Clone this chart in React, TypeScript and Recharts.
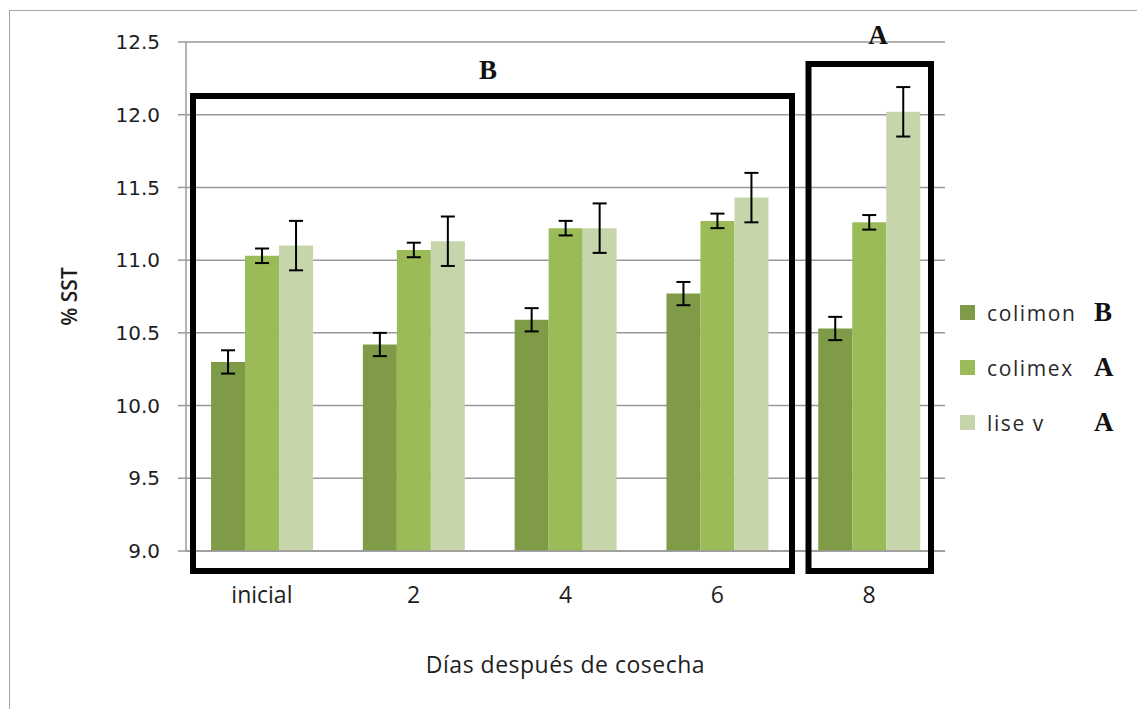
import { BarChart, Bar, XAxis, YAxis, CartesianGrid, ErrorBar, Legend, Label } from 'recharts';

// días después de cosecha
const DAYS = ['inicial', '2', '4', '6', '8'];

// % SST por variedad
const COLIMON = [10.3, 10.42, 10.59, 10.77, 10.53];
const COLIMEX = [11.03, 11.07, 11.22, 11.27, 11.26];
const LISE_V = [11.1, 11.13, 11.22, 11.43, 12.02];

// barras de error (±)
const COLIMON_ERR = [0.08, 0.08, 0.08, 0.08, 0.08];
const COLIMEX_ERR = [0.05, 0.05, 0.05, 0.05, 0.05];
const LISE_V_ERR = [0.17, 0.17, 0.17, 0.17, 0.17];

const Y_TICKS = [9.0, 9.5, 10.0, 10.5, 11.0, 11.5, 12.0, 12.5];

const SERIES_NAMES = ['colimon', 'colimex', 'lise v'];
const SERIES_LETTERS = ['B', 'A', 'A'];
const SERIES_COLORS = ['#7F9B48', '#9BBB59', '#C6D6AA'];

const data = DAYS.map((day, i) => ({
  day,
  colimon: COLIMON[i],
  colimex: COLIMEX[i],
  liseV: LISE_V[i],
  colimonErr: COLIMON_ERR[i],
  colimexErr: COLIMEX_ERR[i],
  liseVErr: LISE_V_ERR[i],
}));

const SANS = '"Open Sans", "Noto Sans", sans-serif';
const SERIF = '"Liberation Serif", "DejaVu Serif", serif';
const TEXT = '#1e1e1e';

function LegendBox() {
  return (
    <div style={{ fontFamily: SANS }}>
      {SERIES_NAMES.map((name, i) => (
        <div key={name} style={{ display: 'flex', alignItems: 'center', height: 55, position: 'relative' }}>
          <span style={{ width: 15, height: 15, background: SERIES_COLORS[i], display: 'inline-block', marginLeft: 2 }} />
          <span style={{ marginLeft: 12, fontSize: 21, color: '#2a2a2a', letterSpacing: 1.6 }}>{name}</span>
          <span
            style={{
              position: 'absolute',
              left: 136,
              fontFamily: SERIF,
              fontWeight: 'bold',
              fontSize: 27,
              color: '#111',
            }}
          >
            {SERIES_LETTERS[i]}
          </span>
        </div>
      ))}
    </div>
  );
}

export default function App() {
  return (
    <div style={{ position: 'absolute', left: 0, top: 0, width: 1137, height: 709, overflow: 'hidden', background: '#fff' }}>
      {/* marco exterior */}
      <div
        style={{
          position: 'absolute',
          left: 9,
          top: 10,
          width: 1200,
          height: 800,
          borderLeft: '1.5px solid #a6a6a6',
          borderTop: '1.5px solid #a6a6a6',
        }}
      />
      <BarChart
        width={1137}
        height={709}
        data={data}
        margin={{ top: 42, right: 192, bottom: 28, left: 66 }}
        barCategoryGap="16.5%"
        barGap={0}
      >
        <CartesianGrid vertical={false} stroke="#999" strokeWidth={1.5} />
        <XAxis
          dataKey="day"
          height={130}
          axisLine={{ stroke: '#999', strokeWidth: 1.5 }}
          tickLine={false}
          tickSize={0}
          tickMargin={36}
          tick={{ fontSize: 23, fill: TEXT, fontFamily: SANS }}
        >
          <Label
            value="Días después de cosecha"
            position="insideBottom"
            offset={8}
            style={{ fontSize: 23, fill: TEXT, fontFamily: SANS, letterSpacing: 0.5 }}
          />
        </XAxis>
        <YAxis
          width={120}
          domain={[9, 12.5]}
          ticks={Y_TICKS}
          interval={0}
          tickFormatter={(v: number) => v.toFixed(1)}
          axisLine={{ stroke: '#999', strokeWidth: 1.5 }}
          tickLine={{ stroke: '#999', strokeWidth: 1.5 }}
          tickSize={8}
          tickMargin={18}
          tick={{ fontSize: 20, fill: TEXT, fontFamily: '"DejaVu Sans", sans-serif' }}
        >
          <Label
            value="% SST"
            angle={-90}
            position="insideLeft"
            offset={4}
            style={{ fontSize: 21, fill: TEXT, fontFamily: SANS, textAnchor: 'middle', fontWeight: 600 }}
          />
        </YAxis>
        <Legend
          layout="vertical"
          align="center"
          verticalAlign="middle"
          wrapperStyle={{ left: 958, top: 285, width: 175 }}
          content={() => <LegendBox />}
        />
        <Bar dataKey="colimon" name="colimon" fill={SERIES_COLORS[0]} isAnimationActive={false}>
          <ErrorBar dataKey="colimonErr" direction="y" width={7} stroke="#000" strokeWidth={2} />
        </Bar>
        <Bar dataKey="colimex" name="colimex" fill={SERIES_COLORS[1]} isAnimationActive={false}>
          <ErrorBar dataKey="colimexErr" direction="y" width={7} stroke="#000" strokeWidth={2} />
        </Bar>
        <Bar dataKey="liseV" name="lise v" fill={SERIES_COLORS[2]} isAnimationActive={false}>
          <ErrorBar dataKey="liseVErr" direction="y" width={7} stroke="#000" strokeWidth={2} />
        </Bar>
      </BarChart>
      {/* recuadros de agrupación y letras */}
      <svg width={1137} height={709} style={{ position: 'absolute', left: 0, top: 0, pointerEvents: 'none' }}>
        <rect x={193} y={96} width={599} height={475} fill="none" stroke="#000" strokeWidth={6} />
        <rect x={808.5} y={64} width={122.5} height={507} fill="none" stroke="#000" strokeWidth={6} />
        <text x={488} y={79} textAnchor="middle" fontFamily={SERIF} fontWeight="bold" fontSize={27} fill="#111">
          B
        </text>
        <text x={878} y={44} textAnchor="middle" fontFamily={SERIF} fontWeight="bold" fontSize={27} fill="#111">
          A
        </text>
      </svg>
    </div>
  );
}
